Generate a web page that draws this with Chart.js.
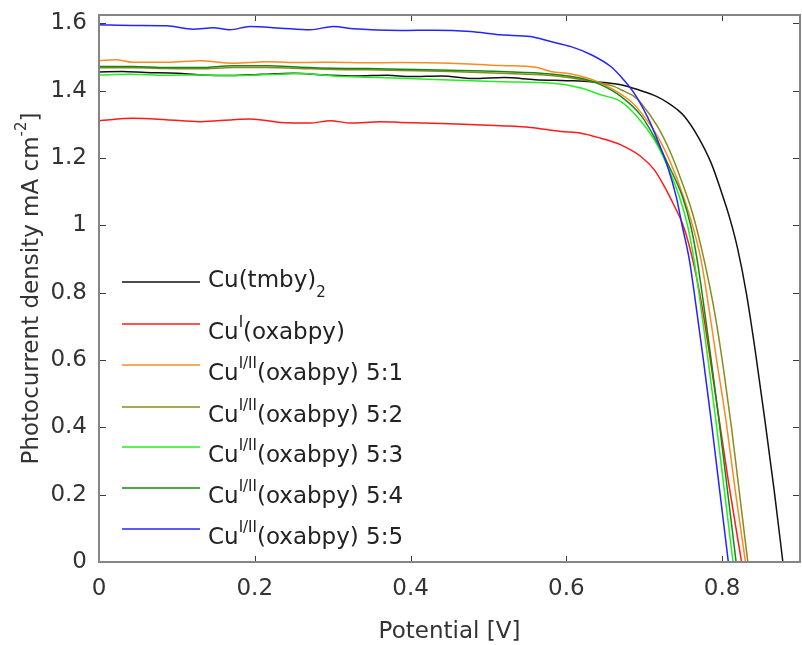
<!DOCTYPE html>
<html>
<head>
<meta charset="utf-8">
<title>Photocurrent density vs potential</title>
<script src="https://cdn.jsdelivr.net/npm/chart.js@4.4.1/dist/chart.umd.min.js"></script>
<style>
  html, body { margin: 0; padding: 0; background: #fff; }
  #jv { display: block; }
</style>
</head>
<body>
<canvas id="jv" width="802" height="645"></canvas>
<script>
// J-V curves, potential in V, photocurrent density in mA cm^-2
const vTmby = [0, 0.03, 0.06, 0.10, 0.13, 0.17, 0.21, 0.25, 0.29, 0.33, 0.37, 0.40, 0.44, 0.48, 0.52, 0.56, 0.60, 0.632, 0.670, 0.696, 0.715, 0.730, 0.742, 0.752, 0.769, 0.786, 0.799, 0.810, 0.820, 0.831, 0.843, 0.855, 0.867, 0.878];
const jTmby = [1.456, 1.457, 1.454, 1.452, 1.447, 1.445, 1.449, 1.452, 1.447, 1.444, 1.446, 1.442, 1.444, 1.436, 1.439, 1.433, 1.430, 1.427, 1.418, 1.400, 1.384, 1.365, 1.345, 1.323, 1.264, 1.185, 1.100, 1.02, 0.93, 0.80, 0.62, 0.42, 0.21, 0];

const vCuI = [0, 0.044, 0.086, 0.13, 0.172, 0.194, 0.233, 0.271, 0.297, 0.323, 0.361, 0.387, 0.451, 0.516, 0.554, 0.593, 0.619, 0.644, 0.670, 0.696, 0.713, 0.726, 0.739, 0.749, 0.757, 0.767, 0.775, 0.790, 0.808, 0.825];
const jCuI = [1.311, 1.318, 1.314, 1.308, 1.314, 1.316, 1.306, 1.304, 1.311, 1.304, 1.308, 1.306, 1.302, 1.296, 1.291, 1.279, 1.274, 1.259, 1.239, 1.204, 1.165, 1.115, 1.056, 1.006, 0.947, 0.848, 0.749, 0.52, 0.24, 0];

const v51 = [0, 0.021, 0.044, 0.087, 0.130, 0.172, 0.216, 0.26, 0.301, 0.345, 0.387, 0.451, 0.516, 0.561, 0.580, 0.606, 0.632, 0.657, 0.683, 0.696, 0.717, 0.734, 0.749, 0.762, 0.773, 0.782, 0.793, 0.805, 0.817, 0.830];
const j51 = [1.489, 1.492, 1.485, 1.485, 1.489, 1.482, 1.486, 1.484, 1.485, 1.483, 1.484, 1.482, 1.475, 1.470, 1.457, 1.450, 1.434, 1.408, 1.368, 1.335, 1.265, 1.185, 1.095, 1.00, 0.897, 0.77, 0.60, 0.42, 0.21, 0];

const v52 = [0, 0.044, 0.087, 0.130, 0.172, 0.216, 0.258, 0.301, 0.345, 0.387, 0.45, 0.516, 0.580, 0.632, 0.661, 0.670, 0.687, 0.696, 0.717, 0.734, 0.749, 0.762, 0.773, 0.784, 0.792, 0.802, 0.812, 0.822, 0.833];
const j52 = [1.468, 1.468, 1.466, 1.465, 1.469, 1.469, 1.466, 1.463, 1.462, 1.460, 1.457, 1.452, 1.445, 1.428, 1.413, 1.403, 1.383, 1.363, 1.294, 1.215, 1.125, 1.036, 0.937, 0.820, 0.72, 0.57, 0.40, 0.21, 0];

const v53 = [0, 0.04, 0.087, 0.13, 0.172, 0.216, 0.258, 0.301, 0.345, 0.387, 0.45, 0.516, 0.580, 0.619, 0.644, 0.670, 0.691, 0.713, 0.730, 0.745, 0.756, 0.764, 0.772, 0.782, 0.792, 0.803, 0.814];
const j53 = [1.447, 1.449, 1.446, 1.447, 1.445, 1.448, 1.451, 1.444, 1.440, 1.437, 1.432, 1.427, 1.423, 1.408, 1.388, 1.368, 1.323, 1.254, 1.175, 1.086, 0.996, 0.897, 0.77, 0.60, 0.42, 0.21, 0];

const v54 = [0, 0.044, 0.087, 0.130, 0.172, 0.216, 0.258, 0.301, 0.345, 0.387, 0.45, 0.516, 0.580, 0.619, 0.644, 0.670, 0.696, 0.713, 0.732, 0.749, 0.760, 0.768, 0.776, 0.786, 0.796, 0.807, 0.818];
const j54 = [1.472, 1.472, 1.469, 1.469, 1.474, 1.474, 1.470, 1.467, 1.466, 1.464, 1.461, 1.457, 1.450, 1.437, 1.418, 1.383, 1.326, 1.262, 1.175, 1.086, 0.996, 0.897, 0.77, 0.60, 0.42, 0.21, 0];

const v55 = [0, 0.044, 0.087, 0.121, 0.147, 0.168, 0.194, 0.233, 0.271, 0.301, 0.327, 0.387, 0.43, 0.477, 0.516, 0.554, 0.580, 0.606, 0.632, 0.657, 0.670, 0.687, 0.704, 0.717, 0.730, 0.741, 0.749, 0.758, 0.766, 0.776, 0.786, 0.797, 0.808];
const j55 = [1.596, 1.594, 1.593, 1.583, 1.587, 1.581, 1.591, 1.586, 1.581, 1.591, 1.584, 1.579, 1.580, 1.576, 1.566, 1.561, 1.546, 1.531, 1.507, 1.472, 1.442, 1.393, 1.323, 1.254, 1.175, 1.086, 0.996, 0.897, 0.77, 0.60, 0.42, 0.21, 0];

// legend text pieces: s = 'sup' / 'sub'
const legendLabels = [
  [{ t: 'Cu(tmby)' }, { t: '2', s: 'sub' }],
  [{ t: 'Cu' }, { t: 'I', s: 'sup' }, { t: '(oxabpy)' }],
  [{ t: 'Cu' }, { t: 'I/II', s: 'sup' }, { t: '(oxabpy) 5:1' }],
  [{ t: 'Cu' }, { t: 'I/II', s: 'sup' }, { t: '(oxabpy) 5:2' }],
  [{ t: 'Cu' }, { t: 'I/II', s: 'sup' }, { t: '(oxabpy) 5:3' }],
  [{ t: 'Cu' }, { t: 'I/II', s: 'sup' }, { t: '(oxabpy) 5:4' }],
  [{ t: 'Cu' }, { t: 'I/II', s: 'sup' }, { t: '(oxabpy) 5:5' }]
];
const seriesV = [vTmby, vCuI, v51, v52, v53, v54, v55];
const seriesJ = [jTmby, jCuI, j51, j52, j53, j54, j55];
const seriesColors = ['#111111', '#ff1a1a', '#fb8a22', '#8a8a1e', '#22ee22', '#128a12', '#2424ff'];

const xTitle = 'Potential [V]';
const yTitle = [{ t: 'Photocurrent density mA cm' }, { t: '-2', s: 'sup' }, { t: ']' }];

const FONT = '"DejaVu Sans", "Liberation Sans", sans-serif';
const TEXT = '#333333';

function drawRich(ctx, parts, x, y, size, measureOnly) {
  let cx = x;
  parts.forEach(p => {
    const fs = p.s ? Math.round(size * 0.65) : size;
    ctx.font = fs + 'px ' + FONT;
    const dy = p.s === 'sup' ? -size * 0.52 : p.s === 'sub' ? size * 0.43 : 0;
    if (!measureOnly) ctx.fillText(p.t, cx, y + dy);
    cx += ctx.measureText(p.t).width;
  });
  return cx - x;
}

// box round the plot with inward tick marks on all four sides
const axesBox = {
  id: 'axesBox',
  afterDatasetsDraw(chart) {
    const { ctx, chartArea: a, scales: { x, y } } = chart;
    ctx.save();
    ctx.strokeStyle = '#3c3c3c';
    ctx.lineWidth = 1;
    ctx.beginPath();
    x.ticks.forEach(t => {
      const px = Math.round(x.getPixelForValue(t.value)) + 0.5;
      ctx.moveTo(px, a.bottom); ctx.lineTo(px, a.bottom - 6);
      ctx.moveTo(px, a.top); ctx.lineTo(px, a.top + 6);
    });
    y.ticks.forEach(t => {
      const py = Math.round(y.getPixelForValue(t.value)) + 0.5;
      ctx.moveTo(a.left, py); ctx.lineTo(a.left + 7, py);
      ctx.moveTo(a.right, py); ctx.lineTo(a.right - 7, py);
    });
    ctx.stroke();
    ctx.strokeStyle = '#858585';
    ctx.lineWidth = 2;
    ctx.strokeRect(a.left, a.top, a.right - a.left, a.bottom - a.top);
    ctx.restore();
  },
  afterDraw(chart) {
    const { ctx, chartArea: a } = chart;
    ctx.save();
    ctx.fillStyle = TEXT;
    ctx.textBaseline = 'alphabetic';
    ctx.textAlign = 'left';

    // x axis title
    ctx.font = '23px ' + FONT;
    const xw = ctx.measureText(xTitle).width;
    ctx.fillText(xTitle, (a.left + a.right) / 2 - xw / 2, 638);

    // y axis title, rotated
    ctx.translate(38, (a.top + a.bottom) / 2);
    ctx.rotate(-Math.PI / 2);
    const yw = drawRich(ctx, yTitle, 0, 0, 23, true);
    drawRich(ctx, yTitle, -yw / 2, 0, 23);
    ctx.restore();

    // legend, no frame
    ctx.save();
    ctx.fillStyle = '#222222';
    const rowY = [282, 324, 365, 407, 447, 488, 529];
    legendLabels.forEach((parts, i) => {
      const ly = rowY[i];
      ctx.strokeStyle = seriesColors[i];
      ctx.lineWidth = 1.6;
      ctx.beginPath();
      ctx.moveTo(122, ly); ctx.lineTo(200, ly);
      ctx.stroke();
      const hasSub = parts.some(p => p.s === 'sub');
      drawRich(ctx, parts, 208, ly + (hasSub ? 5 : 15), 23);
    });
    ctx.restore();
  }
};

const datasets = seriesV.map((vs, i) => ({
  label: legendLabels[i].map(p => p.t).join(''),
  data: vs.map((v, k) => ({ x: v, y: seriesJ[i][k] })),
  showLine: true,
  borderColor: seriesColors[i],
  backgroundColor: seriesColors[i],
  borderWidth: 1.5,
  pointRadius: 0,
  cubicInterpolationMode: 'monotone',
  order: seriesV.length - 1 - i
}));

const tickFont = { family: FONT, size: 23 };
const oneDecimal = v => String(Math.round(v * 10) / 10);

new Chart(document.getElementById('jv'), {
  type: 'scatter',
  data: { datasets },
  options: {
    responsive: false,
    animation: false,
    devicePixelRatio: 1,
    layout: { padding: { left: 0, right: 2, top: 15, bottom: 0 } },
    plugins: { legend: { display: false }, tooltip: { enabled: false } },
    scales: {
      x: {
        type: 'linear', min: 0, max: 0.9,
        grid: { display: false, drawTicks: false },
        border: { display: false },
        ticks: { stepSize: 0.2, includeBounds: false, padding: 13, color: TEXT, font: tickFont, callback: oneDecimal, maxRotation: 0 },
        afterFit: s => { s.height = 83; s.paddingLeft = 0; s.paddingRight = 0; }
      },
      y: {
        type: 'linear', min: 0, max: 1.625,
        grid: { display: false, drawTicks: false },
        border: { display: false },
        ticks: { stepSize: 0.2, includeBounds: false, padding: 12, color: TEXT, font: tickFont, callback: oneDecimal },
        afterFit: s => { s.width = 99; s.paddingTop = 0; s.paddingBottom = 0; }
      }
    }
  },
  plugins: [axesBox]
});
</script>
</body>
</html>
